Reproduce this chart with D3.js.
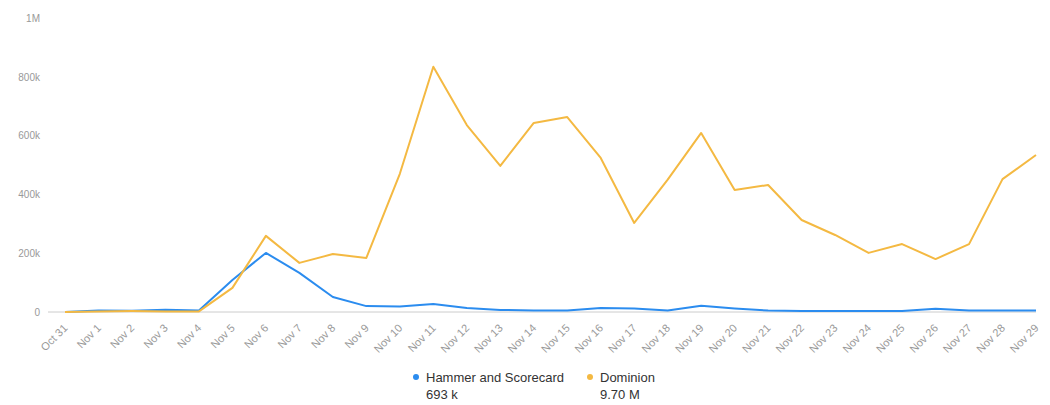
<!DOCTYPE html>
<html><head><meta charset="utf-8">
<script src="https://cdn.jsdelivr.net/npm/d3@7/dist/d3.min.js"></script>
<style>
body{margin:0;background:#fff;font-family:"Liberation Sans",Arial,Helvetica,sans-serif;}
</style></head>
<body><svg id="c" width="1050" height="405"></svg>
<script>
const categories = ["Oct 31","Nov 1","Nov 2","Nov 3","Nov 4","Nov 5","Nov 6","Nov 7","Nov 8","Nov 9","Nov 10","Nov 11","Nov 12","Nov 13","Nov 14","Nov 15","Nov 16","Nov 17","Nov 18","Nov 19","Nov 20","Nov 21","Nov 22","Nov 23","Nov 24","Nov 25","Nov 26","Nov 27","Nov 28","Nov 29"];
const hammer = [0,5000,4000,8000,5000,109000,201000,133000,51000,20000,19000,27000,14000,7000,5000,5000,14000,12000,5000,21000,12000,5000,3000,3000,3000,3000,11000,5000,5000,5000];
const dominion = [0,2000,3000,2000,2000,82000,259000,167000,197000,184000,470000,834000,636000,497000,643000,663000,524000,303000,450000,609000,415000,432000,313000,262000,201000,231000,180000,231000,452000,534000];
const yTicks = [0,200000,400000,600000,800000,1000000];
const yTickLabels = ["0","200k","400k","600k","800k","1M"];
const seriesNames = ["Hammer and Scorecard","Dominion"];
const seriesTotals = ["693 k","9.70 M"];
const colors = ["#2b8cef","#f4b942"];

const svg = d3.select("#c");
const x = d3.scalePoint().domain(categories).range([65,1036]);
const y = d3.scaleLinear().domain([0,1000000]).range([312,18]);

// y labels
const yAxis = d3.axisLeft(y).tickValues(yTicks).tickFormat((d,i)=>yTickLabels[i]).tickSize(0).tickPadding(0);
const gy = svg.append("g").attr("transform","translate(40,0)").call(yAxis);
gy.select(".domain").remove();
gy.selectAll("text").attr("fill","#999").attr("font-size","10px").attr("font-family","Liberation Sans, Arial, sans-serif");

// baseline
svg.append("line").attr("x1",48).attr("x2",1036).attr("y1",y(0)).attr("y2",y(0)).attr("stroke","#ccc").attr("stroke-width",1);

// x axis
const xAxis = d3.axisBottom(x).tickSize(0).tickPadding(0);
const gx = svg.append("g").attr("transform","translate(0,326)").call(xAxis);
gx.select(".domain").remove();
gx.selectAll("text").attr("fill","#999").attr("font-size","11px").attr("font-family","Liberation Sans, Arial, sans-serif")
  .attr("text-anchor","end").attr("dy","0.35em").attr("transform","rotate(-45)");

// lines
const line = d3.line().x((d,i)=>x(categories[i])).y(d=>y(d));
[hammer,dominion].forEach((s,k)=>{
  svg.append("path").datum(s).attr("d",line).attr("fill","none").attr("stroke",colors[k]).attr("stroke-width",2).attr("stroke-linejoin","round");
});

// legend
const lx = [416,590];
seriesNames.forEach((n,k)=>{
  const g = svg.append("g");
  g.append("circle").attr("cx",lx[k]).attr("cy",377).attr("r",3).attr("fill",colors[k]);
  g.append("text").attr("x",lx[k]+10).attr("y",382).attr("font-size","13px").attr("fill","#333").text(n);
  g.append("text").attr("x",lx[k]+10).attr("y",399).attr("font-size","13px").attr("fill","#333").text(seriesTotals[k]);
});
</script></body></html>
